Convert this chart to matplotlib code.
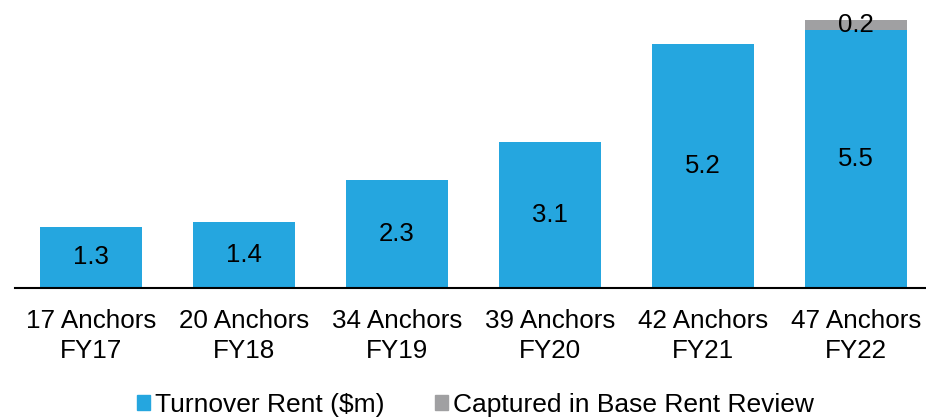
import matplotlib
matplotlib.use("Agg")
import matplotlib.pyplot as plt
from matplotlib.patches import Patch

plt.rcParams['font.family'] = ['Liberation Sans', 'DejaVu Sans']

categories = ["17 Anchors\nFY17", "20 Anchors\nFY18", "34 Anchors\nFY19",
              "39 Anchors\nFY20", "42 Anchors\nFY21", "47 Anchors\nFY22"]
turnover_rent = [1.3, 1.4, 2.3, 3.1, 5.2, 5.5]
captured = [0, 0, 0, 0, 0, 0.2]

blue = "#25A6DF"
grey = "#A0A0A2"

fig = plt.figure(figsize=(9.26, 4.18), dpi=100)
ax = fig.add_axes([14.5 / 926, 1 - 288 / 418, 918 / 926, 288 / 418])

x = list(range(len(categories)))
ax.bar(x, turnover_rent, width=0.667, color=blue, zorder=2)
ax.bar(x, captured, bottom=turnover_rent, width=0.667, color=grey, zorder=2)

for i, v in enumerate(turnover_rent):
    ax.text(i, v / 2, f"{v:.1f}", ha="center", va="center", fontsize=18.5, color="black")
for i, (b, v) in enumerate(zip(turnover_rent, captured)):
    if v > 0:
        ax.text(i, b + v / 2, f"{v:.1f}", ha="center", va="center", fontsize=18.5, color="black")

ax.set_xlim(-0.5, 5.5)
ax.set_ylim(0, 288 / 47)
ax.set_xticks(x)
ax.set_xticklabels(categories, fontsize=18.7, linespacing=1.3)
ax.tick_params(axis="x", length=0, pad=15)
ax.set_yticks([])
for s in ["top", "right", "left"]:
    ax.spines[s].set_visible(False)
ax.spines["bottom"].set_linewidth(1.5)
ax.spines["bottom"].set_color("black")

handles = [Patch(color=blue, label="Turnover Rent ($m)"),
           Patch(color=grey, label="Captured in Base Rent Review")]
fig.legend(handles=handles, loc="center", bbox_to_anchor=(475.5 / 926, 1 - 405 / 418),
           ncol=2, frameon=False, fontsize=19, handlelength=0.5, handleheight=0.5,
           handletextpad=0.2, columnspacing=1.9, borderpad=0)

fig.savefig("out.png", dpi=100)
